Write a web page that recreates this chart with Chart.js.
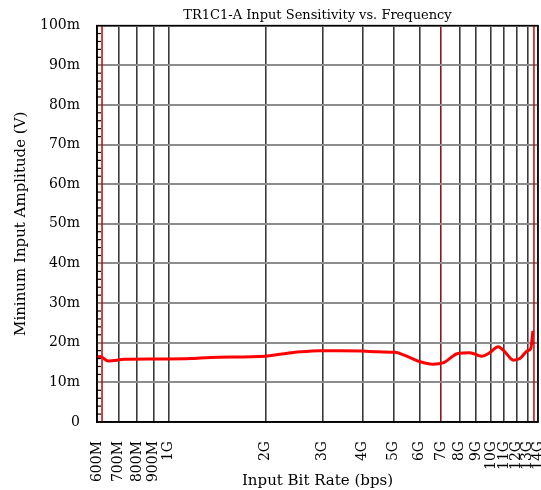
<!DOCTYPE html>
<html>
<head>
<meta charset="utf-8">
<script src="https://cdn.jsdelivr.net/npm/chart.js@4/dist/chart.umd.min.js"></script>
<style>
  html, body { margin: 0; padding: 0; background: #fff; }
  #wrap { width: 541px; height: 490px; }
</style>
</head>
<body>
<div id="wrap"><canvas id="sensChart"></canvas></div>
<script>
// bit rate (bps) and minimum input amplitude (mV)
const rates = [600e6, 615e6, 650e6, 730e6, 920e6, 1.17e9, 1.35e9, 2.0e9, 2.22e9, 2.56e9, 2.95e9, 3.4e9, 4.0e9, 4.5e9, 5.04e9,
               5.48e9, 6.03e9, 6.61e9, 7.1e9, 7.9e9, 8.6e9, 9.36e9, 9.93e9, 10.53e9, 11.05e9, 11.73e9, 12.3e9, 13.0e9, 13.3e9, 13.5e9];
const amplitude = [16.4, 16.5, 15.4, 15.8, 15.9, 16.0, 16.3, 16.6, 17.1, 17.7, 18.0, 18.0, 17.9, 17.7, 17.6,
                   16.6, 15.2, 14.6, 14.9, 17.3, 17.5, 16.6, 17.5, 19.0, 17.7, 15.6, 16.0, 18.0, 18.6, 23.0];

// x-axis ticks
const xTickValues = [600e6, 700e6, 800e6, 900e6, 1e9, 2e9, 3e9, 4e9, 5e9, 6e9, 7e9, 8e9, 9e9, 10e9, 11e9, 12e9, 13e9, 14e9];
const xTickLabels = ['600M', '700M', '800M', '900M', '1G', '2G', '3G', '4G', '5G', '6G', '7G', '8G', '9G', '10G', '11G', '12G', '13G', '14G'];

// red marker lines (bps)
const markerRates = [622e6, 13.6e9];

const serif = '"DejaVu Serif", "Liberation Serif", serif';

// Rahmen, kleine Teilstriche und Markierungslinien
const framePlugin = {
    id: 'frame',
    beforeDatasetsDraw(chart) {
        const { ctx, chartArea, scales } = chart;
        ctx.save();
        ctx.strokeStyle = '#cc0000';
        ctx.lineWidth = 1.5;
        markerRates.forEach(r => {
            const x = scales.x.getPixelForValue(r);
            ctx.beginPath();
            ctx.moveTo(x, chartArea.top);
            ctx.lineTo(x, chartArea.bottom);
            ctx.stroke();
        });
        ctx.restore();
    },
    afterDatasetsDraw(chart) {
        const { ctx, chartArea, scales } = chart;
        ctx.save();
        ctx.strokeStyle = '#000';
        ctx.lineWidth = 1.5;
        ctx.strokeRect(chartArea.left, chartArea.top, chartArea.right - chartArea.left, chartArea.bottom - chartArea.top);
        ctx.lineWidth = 1.2;
        for (let v = 2; v < 100; v += 2) {
            if (v % 10 === 0) continue;
            const y = scales.y.getPixelForValue(v);
            ctx.beginPath();
            ctx.moveTo(chartArea.left, y);
            ctx.lineTo(chartArea.left + 4, y);
            ctx.stroke();
        }
        ctx.restore();
    }
};

const ctx = document.getElementById('sensChart').getContext('2d');
new Chart(ctx, {
    type: 'line',
    data: {
        datasets: [{
            data: rates.map((r, i) => ({ x: r, y: amplitude[i] })),
            borderColor: '#ff0000',
            borderWidth: 3,
            pointRadius: 0,
            fill: false,
            cubicInterpolationMode: 'monotone'
        }]
    },
    options: {
        responsive: true,
        maintainAspectRatio: false,
        animation: false,
        layout: { padding: { top: 0, right: 3, left: 0, bottom: 0 } },
        plugins: {
            legend: { display: false },
            tooltip: { enabled: false },
            title: {
                display: true,
                text: 'TR1C1-A Input Sensitivity vs. Frequency',
                fullSize: false,
                color: '#000',
                font: { family: serif, size: 13, weight: 'normal' },
                padding: { top: 8, bottom: 2 }
            }
        },
        scales: {
            x: {
                type: 'logarithmic',
                min: 600e6,
                max: 14e9,
                afterBuildTicks: s => { s.ticks = xTickValues.map(v => ({ value: v })); },
                afterFit: s => { s.height = 68; s.paddingLeft = 0; s.paddingRight = 0; },
                ticks: {
                    autoSkip: false,
                    minRotation: 90,
                    maxRotation: 90,
                    padding: 19,
                    color: '#000',
                    font: { family: serif, size: 14 },
                    callback: (v, i) => xTickLabels[i]
                },
                grid: {
                    drawTicks: false,
                    lineWidth: 1.6,
                    color: c => (c.tick && c.tick.value === 7e9) ? '#8b1a1a' : '#3a3a3a'
                },
                border: { color: '#000', width: 1.5 },
                title: {
                    display: true,
                    text: 'Input Bit Rate (bps)',
                    color: '#000',
                    font: { family: serif, size: 15 },
                    padding: { top: 0, bottom: 0 }
                }
            },
            y: {
                min: 0,
                max: 100,
                afterFit: s => { s.width = 97; },
                ticks: {
                    stepSize: 10,
                    padding: 17,
                    color: '#000',
                    font: { family: serif, size: 14 },
                    callback: v => v === 0 ? '0' : v + 'm'
                },
                grid: { drawTicks: false, lineWidth: 2, color: '#8c8c8c' },
                border: { color: '#000', width: 1.5 },
                title: {
                    display: true,
                    text: 'Mininum Input Amplitude (V)',
                    color: '#000',
                    font: { family: serif, size: 15 },
                    padding: { top: 12, bottom: 0 }
                }
            }
        }
    },
    plugins: [framePlugin]
});
</script>
</body>
</html>
